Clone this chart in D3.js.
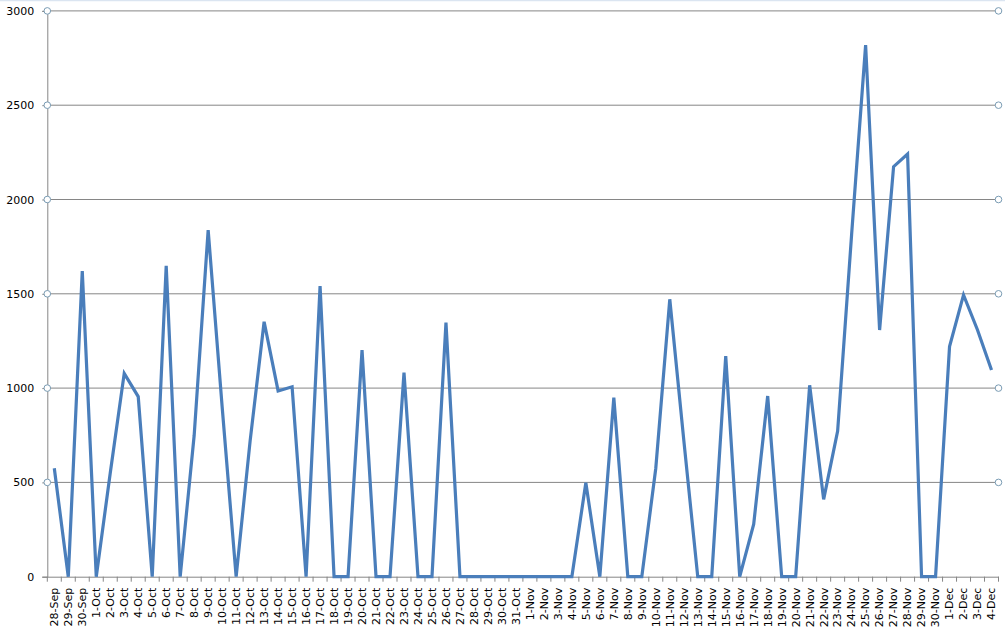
<!DOCTYPE html>
<html>
<head>
<meta charset="utf-8">
<script src="https://cdn.jsdelivr.net/npm/d3@7"></script>
<style>
html,body{margin:0;padding:0;background:#fff;}
svg{display:block;}
text{font-family:"DejaVu Sans",sans-serif;fill:#000;}
</style>
</head>
<body>
<svg id="chart" width="1005" height="633"></svg>
<script>
const categories = ["28-Sep","29-Sep","30-Sep",
 "1-Oct","2-Oct","3-Oct","4-Oct","5-Oct","6-Oct","7-Oct","8-Oct","9-Oct","10-Oct",
 "11-Oct","12-Oct","13-Oct","14-Oct","15-Oct","16-Oct","17-Oct","18-Oct","19-Oct","20-Oct",
 "21-Oct","22-Oct","23-Oct","24-Oct","25-Oct","26-Oct","27-Oct","28-Oct","29-Oct","30-Oct","31-Oct",
 "1-Nov","2-Nov","3-Nov","4-Nov","5-Nov","6-Nov","7-Nov","8-Nov","9-Nov","10-Nov",
 "11-Nov","12-Nov","13-Nov","14-Nov","15-Nov","16-Nov","17-Nov","18-Nov","19-Nov","20-Nov",
 "21-Nov","22-Nov","23-Nov","24-Nov","25-Nov","26-Nov","27-Nov","28-Nov","29-Nov","30-Nov",
 "1-Dec","2-Dec","3-Dec","4-Dec"];
const values = [575,0,1620,
 0,550,1078,955,0,1649,0,750,1838,900,
 0,720,1352,985,1007,0,1541,0,0,1202,
 0,0,1082,0,0,1347,0,0,0,0,0,
 0,0,0,0,498,0,949,0,0,575,
 1471,725,0,0,1170,0,279,958,0,0,
 1015,410,772,1815,2819,1308,2174,2241,0,0,
 1220,1494,1308,1096];
const yTicks = [0,500,1000,1500,2000,2500,3000];

const svg = d3.select("#chart");
const mLeft = 47.3, mRight = 998.5, mTop = 10.9, mBottom = 576.7;

const x = d3.scaleBand().domain(categories).range([mLeft, mRight]).padding(0);
const y = d3.scaleLinear().domain([0,3000]).range([mBottom, mTop]);

// top border
svg.append("line").attr("x1",0).attr("x2",1005).attr("y1",0.5).attr("y2",0.5)
  .attr("stroke","#dbe5f1").attr("stroke-width",1.5);

// gridlines
svg.append("g").selectAll("line").data(yTicks.filter(d=>d>0)).join("line")
  .attr("x1",mLeft).attr("x2",mRight)
  .attr("y1",d=>y(d)).attr("y2",d=>y(d))
  .attr("stroke","#868686").attr("stroke-width",1);

// y axis
const yAxis = svg.append("g").attr("transform",`translate(${mLeft},0)`)
  .call(d3.axisLeft(y).tickValues(yTicks).tickFormat(d3.format("d")).tickSize(5).tickPadding(8));
yAxis.select(".domain").attr("stroke","#868686");
yAxis.selectAll(".tick line").attr("stroke","#868686");
yAxis.selectAll("text").style("font-size","11px").attr("fill","#000");

// x axis
const xAxis = svg.append("g").attr("transform",`translate(0,${mBottom})`)
  .call(d3.axisBottom(x).tickSize(0).tickPadding(0));
xAxis.select(".domain").attr("stroke","#868686");
xAxis.selectAll(".tick text")
  .style("font-size","11px").attr("fill","#000")
  .attr("text-anchor","end")
  .attr("transform","rotate(-90)")
  .attr("x",-11).attr("y",0).attr("dy","0.35em");
// category boundary ticks
const bounds = categories.map(c=>x(c)).concat([mRight]);
svg.append("g").selectAll("line").data(bounds).join("line")
  .attr("x1",d=>d).attr("x2",d=>d).attr("y1",mBottom).attr("y2",mBottom+5)
  .attr("stroke","#868686");

// circles at gridline ends
const circ = yTicks.filter(d=>d>0);
[mLeft,mRight].forEach(cx=>{
  svg.append("g").selectAll("circle").data(circ).join("circle")
    .attr("cx",cx).attr("cy",d=>y(d)).attr("r",3.3)
    .attr("fill","#fff").attr("stroke","#7a9cb4").attr("stroke-width",1);
});

// line
const line = d3.line().x((d,i)=>x(categories[i])+x.bandwidth()/2).y(d=>y(d));
svg.append("path").datum(values).attr("d",line)
  .attr("fill","none").attr("stroke","#4a7ebb").attr("stroke-width",3.2)
  .attr("stroke-linejoin","miter").attr("stroke-linecap","butt");
</script>
</body>
</html>
